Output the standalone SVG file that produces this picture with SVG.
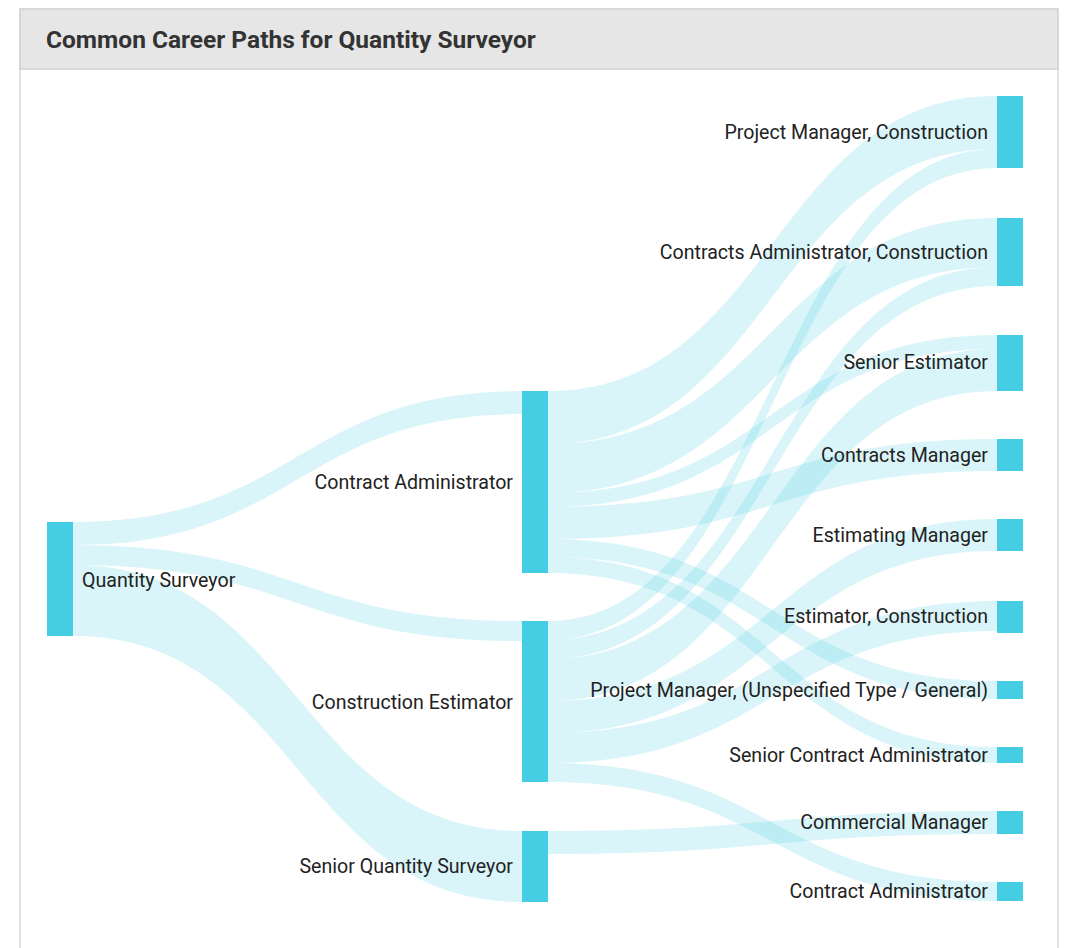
<svg xmlns="http://www.w3.org/2000/svg" width="1080" height="948" viewBox="0 0 1080 948">
<style>
.lbl{font-family:Roboto,"Liberation Sans",sans-serif;font-size:19.6px;fill:#222;}
.r{text-anchor:end;}
.node{fill:#45cee3;}
.lnk{fill:#45cee3;fill-opacity:0.2;}
.title{font-family:Roboto,"Liberation Sans",sans-serif;font-size:24.5px;font-weight:700;fill:#333;}
</style>
<rect x="0" y="0" width="1080" height="948" fill="#ffffff"/>
<rect x="20" y="9" width="1038" height="960" fill="#ffffff" stroke="#d8d8d8" stroke-width="1.5"/>
<rect x="20" y="9" width="1038" height="60" fill="#e6e6e6" stroke="#d4d4d4" stroke-width="1.5"/>
<text class="title" x="46" y="48">Common Career Paths for Quantity Surveyor</text>

<g id="links">
<path class="lnk" d="M73,522 C297.5,522 297.5,391 522,391 L522,414 C297.5,414 297.5,545 73,545Z"/>
<path class="lnk" d="M73,545 C297.5,545 297.5,621 522,621 L522,641 C297.5,641 297.5,565 73,565Z"/>
<path class="lnk" d="M73,565 C297.5,565 297.5,831 522,831 L522,902 C297.5,902 297.5,636 73,636Z"/>
<path class="lnk" d="M548,391 C772.5,391 772.5,96 997,96 L997,149 C772.5,149 772.5,444 548,444Z"/>
<path class="lnk" d="M548,444 C772.5,444 772.5,218 997,218 L997,267 C772.5,267 772.5,493 548,493Z"/>
<path class="lnk" d="M548,493 C772.5,493 772.5,335 997,335 L997,349 C772.5,349 772.5,507 548,507Z"/>
<path class="lnk" d="M548,507 C772.5,507 772.5,439 997,439 L997,471 C772.5,471 772.5,539 548,539Z"/>
<path class="lnk" d="M548,539 C772.5,539 772.5,681 997,681 L997,699 C772.5,699 772.5,557 548,557Z"/>
<path class="lnk" d="M548,557 C772.5,557 772.5,747 997,747 L997,763 C772.5,763 772.5,573 548,573Z"/>
<path class="lnk" d="M548,621 C772.5,621 772.5,149 997,149 L997,168 C772.5,168 772.5,640 548,640Z"/>
<path class="lnk" d="M548,640 C772.5,640 772.5,267 997,267 L997,286 C772.5,286 772.5,659 548,659Z"/>
<path class="lnk" d="M548,659 C772.5,659 772.5,349 997,349 L997,391 C772.5,391 772.5,701 548,701Z"/>
<path class="lnk" d="M548,701 C772.5,701 772.5,519 997,519 L997,551 C772.5,551 772.5,733 548,733Z"/>
<path class="lnk" d="M548,733 C772.5,733 772.5,601 997,601 L997,631 C772.5,631 772.5,763 548,763Z"/>
<path class="lnk" d="M548,763 C772.5,763 772.5,882 997,882 L997,901 C772.5,901 772.5,782 548,782Z"/>
<path class="lnk" d="M548,831 C772.5,831 772.5,811 997,811 L997,834 C772.5,834 772.5,854 548,854Z"/>
</g>

<g id="n-qs"><rect class="node" x="47" y="522" width="26" height="114"/><text class="lbl" x="82" y="587">Quantity Surveyor</text></g>
<g id="n-ca"><rect class="node" x="522" y="391" width="26" height="182"/><text class="lbl r" x="513" y="489">Contract Administrator</text></g>
<g id="n-ce"><rect class="node" x="522" y="621" width="26" height="161"/><text class="lbl r" x="513" y="709">Construction Estimator</text></g>
<g id="n-sqs"><rect class="node" x="522" y="831" width="26" height="71"/><text class="lbl r" x="513" y="873">Senior Quantity Surveyor</text></g>

<g id="n-pmc"><rect class="node" x="997" y="96" width="26" height="72"/><text class="lbl r" x="988" y="139">Project Manager, Construction</text></g>
<g id="n-cac"><rect class="node" x="997" y="218" width="26" height="68"/><text class="lbl r" x="988" y="259">Contracts Administrator, Construction</text></g>
<g id="n-se"><rect class="node" x="997" y="335" width="26" height="56"/><text class="lbl r" x="988" y="369">Senior Estimator</text></g>
<g id="n-cm"><rect class="node" x="997" y="439" width="26" height="32"/><text class="lbl r" x="988" y="462">Contracts Manager</text></g>
<g id="n-em"><rect class="node" x="997" y="519" width="26" height="32"/><text class="lbl r" x="988" y="542">Estimating Manager</text></g>
<g id="n-ec"><rect class="node" x="997" y="601" width="26" height="32"/><text class="lbl r" x="988" y="623">Estimator, Construction</text></g>
<g id="n-pmg"><rect class="node" x="997" y="681" width="26" height="18"/><text class="lbl r" x="988" y="697">Project Manager, (Unspecified Type / General)</text></g>
<g id="n-sca"><rect class="node" x="997" y="747" width="26" height="16"/><text class="lbl r" x="988" y="762">Senior Contract Administrator</text></g>
<g id="n-com"><rect class="node" x="997" y="811" width="26" height="23"/><text class="lbl r" x="988" y="829">Commercial Manager</text></g>
<g id="n-cta"><rect class="node" x="997" y="882" width="26" height="19"/><text class="lbl r" x="988" y="898">Contract Administrator</text></g>
</svg>
